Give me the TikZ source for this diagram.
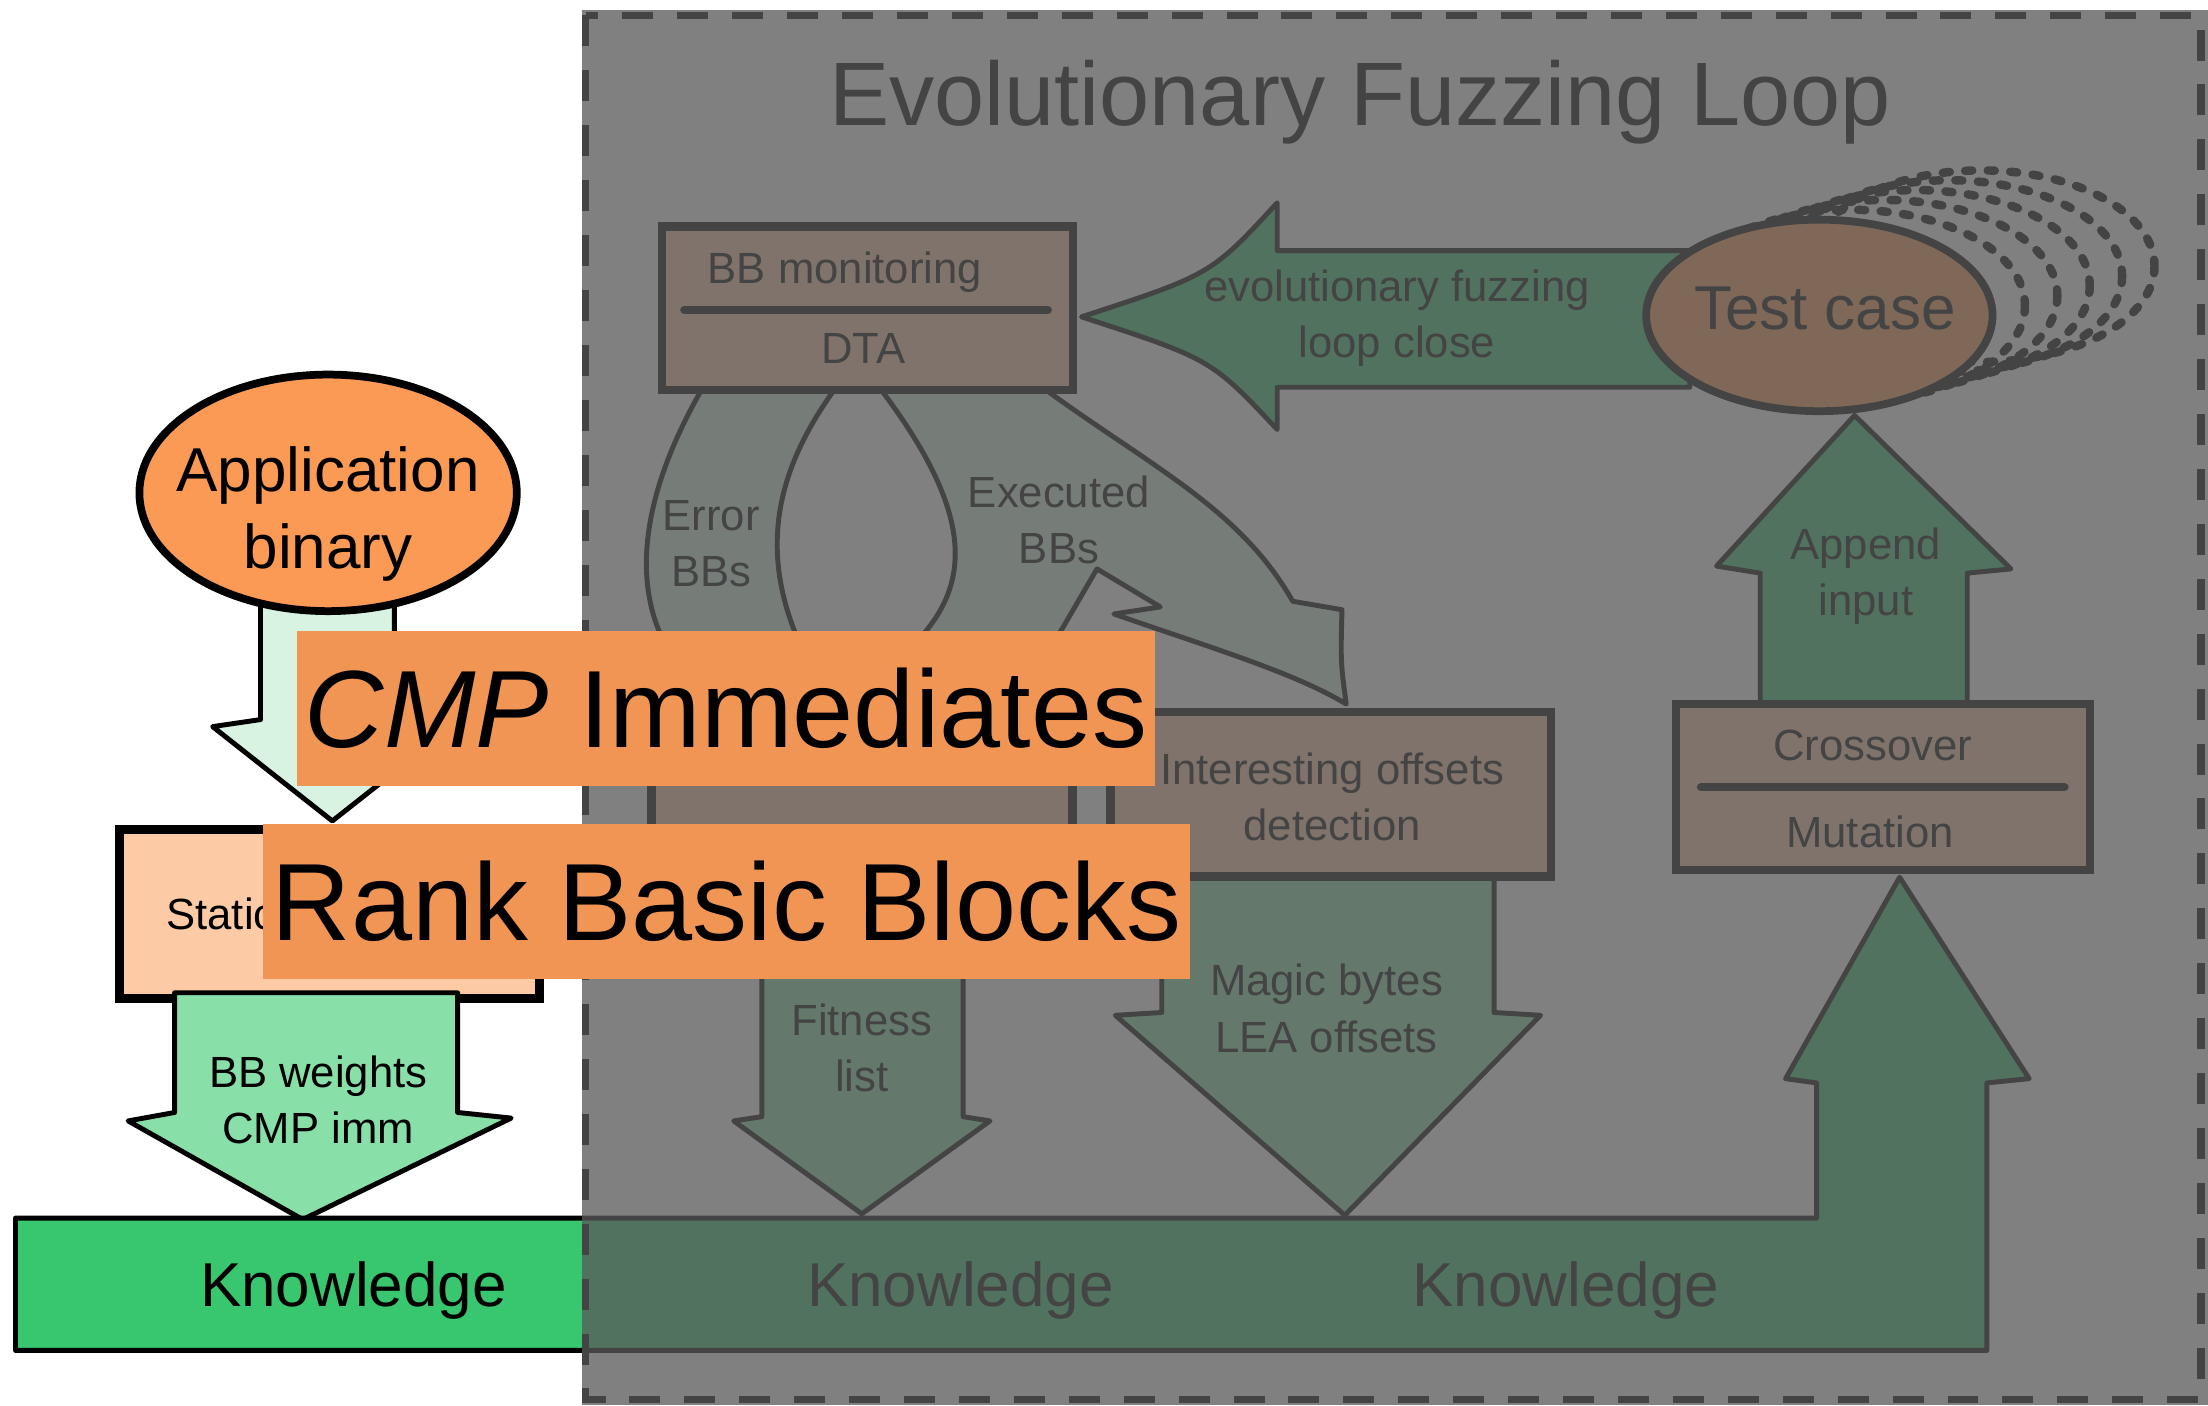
\documentclass[tikz,border=0pt]{standalone}
\usepackage{fontspec}
\setmainfont{Liberation Sans}
\usetikzlibrary{positioning, shapes.geometric}
\definecolor{appcol}{RGB}{251,154,84}
\definecolor{peach}{RGB}{253,202,166}
\definecolor{knowgreen}{RGB}{56,198,111}
\definecolor{midgreen}{RGB}{136,223,168}
\definecolor{palegreen}{RGB}{216,243,226}
\definecolor{veil}{RGB}{89,89,89}
\definecolor{tagorange}{RGB}{241,149,84}

\begin{document}
\begin{tikzpicture}[x=1pt,y=-1pt,
    every node/.style={align=center,inner sep=0pt,font=\fontsize{31}{40}\selectfont},
    box/.style={draw,line width=6pt,fill=peach},
    blob/.style={ellipse,draw,line width=5.5pt,fill=appcol},
    flow/.style={draw,line width=3.5pt,line join=round},
    big/.style={font=\fontsize{44}{55}\selectfont},
    tag/.style={fill=tagorange,font=\fontsize{78}{80}\selectfont}]

    \useasboundingbox[fill=white] (0,0) rectangle (1568,998);

    % static side
    \draw[flow,fill=palegreen] (185,420) -- (185,511) -- (151,516) -- (236,583) -- (321,516) -- (280,511) -- (280,420) -- cycle;
    \node[blob,minimum width=268,minimum height=168] (app) at (233,350) {};
    \node[big] (apptext) at (233,365) {Application\\binary};
    \node[box,line width=6.5pt,minimum width=298,minimum height=120] (static) at (234,649) {};
    \node[anchor=base west] (stattext) at (118,660) {Static};
    \draw[flow,fill=midgreen] (124,705) -- (124,790) -- (91,796) -- (215,866) -- (363,794) -- (325,790) -- (325,705) -- cycle;
    \node (weights) at (226,781) {BB weights\\CMP imm};

    % knowledge band
    \draw[flow,fill=knowgreen] (11,865) -- (1290,865) -- (1290,769) -- (1268,766) -- (1349,623) -- (1441,766) -- (1411,769) -- (1411,959) -- (11,959) -- cycle;
    \node[big,anchor=base] (know1) at (251,928) {Knowledge};
    \node[big,anchor=base] (know2) at (682,928) {Knowledge};
    \node[big,anchor=base] (know3) at (1112,928) {Knowledge};

    % loop side
    \node[font=\fontsize{64}{70}\selectfont,anchor=base] (title) at (966,89) {Evolutionary Fuzzing Loop};

    \draw[flow,fill=knowgreen] (1200,178) -- (907,178) -- (907,144) .. controls (860,195) .. (768,225) .. controls (860,255) .. (907,305) -- (907,275) -- (1200,275) -- cycle;
    \node (close) at (992,226) {evolutionary fuzzing\\loop close};

    \draw[flow,fill=knowgreen] (1250,505) -- (1250,407) -- (1219,402) -- (1317,295) -- (1428,404) -- (1397,407) -- (1397,505) -- cycle;
    \node (append) at (1325,409) {Append\\input};

    \foreach \i in {1,...,5}
        \draw[line width=6pt,dash pattern=on 5pt off 11pt,line cap=round] ({1292+23*\i},{224-7*\i}) ellipse [x radius=123,y radius=68];
    \node[blob,minimum width=246,minimum height=136] (test) at (1292,224) {};
    \node[big,anchor=base] (testtext) at (1296,234) {Test case};

    % BB bands
    \draw[flow,fill=palegreen] (501,272) .. controls (455,350) and (445,420) .. (480,470) -- (462,472) -- (530,505) -- (585,466) -- (572,466) .. controls (540,400) and (545,340) .. (596,272) -- cycle;
    \node (errbbs) at (505,386) {Error\\BBs};
    \draw[flow,fill=palegreen] (622,272) .. controls (690,360) and (690,410) .. (656,450) -- (650,475) -- (636,472) -- (712,505) -- (754,447) -- (779,404) -- (824,431) -- (791,436) .. controls (860,460) and (920,478) .. (956,500) .. controls (952,470) .. (953,433) -- (918,427) .. controls (880,360) and (816,331) .. (736,272) -- cycle;
    \node (exebbs) at (752,369) {Executed\\BBs};

    \node[box,minimum width=292,minimum height=116] (bbmon) at (616,219) {};
    \draw[line width=6pt,line cap=round] (486,220) -- (744,220);
    \node[anchor=base] (bbmontext) at (600,201) {BB monitoring};
    \node[anchor=base] (dta) at (613,258) {DTA};

    \draw[flow,fill=midgreen] (541,620) -- (541,793) -- (521,796) -- (612,862) -- (703,796) -- (684,793) -- (684,620) -- cycle;
    \node (fitlist) at (612,744) {Fitness\\list};
    \draw[flow,fill=midgreen] (825,620) -- (825,719) -- (792,721) -- (955,863) -- (1094,721) -- (1061,719) -- (1061,620) -- cycle;
    \node (magic) at (942,716) {Magic bytes\\LEA offsets};

    \node[box,minimum width=299,minimum height=117] (fitness) at (612,564) {};
    \node[box,minimum width=313,minimum height=117] (offsets) at (945,564) {};
    \node (offtext) at (946,566) {Interesting offsets\\detection};
    \node[box,minimum width=294,minimum height=118] (cross) at (1337,559) {};
    \draw[line width=6pt,line cap=round] (1208,559) -- (1466,559);
    \node[anchor=base] (crosstext) at (1330,540) {Crossover};
    \node[anchor=base] (mutation) at (1328,602) {Mutation};

    % veil over the loop
    \draw[line width=5pt,dash pattern=on 22pt off 17pt] (416,11) rectangle (1563,994);
    \fill[veil,fill opacity=0.765] (413,7) rectangle (1568,998);

    \node[tag,minimum width=609,minimum height=110] (cmp) at (515.5,503) {\textit{CMP} Immediates};
    \node[tag,minimum width=658,minimum height=110] (rank) at (516,640) {Rank Basic Blocks};
\end{tikzpicture}
\end{document}
